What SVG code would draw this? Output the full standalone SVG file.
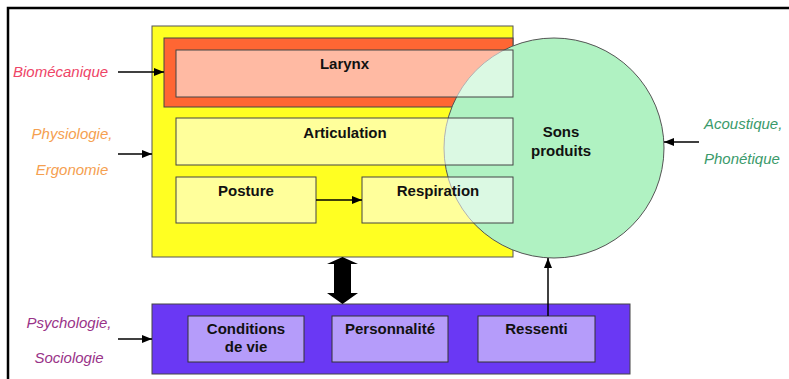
<svg xmlns="http://www.w3.org/2000/svg" width="789" height="379" viewBox="0 0 789 379">
<defs>
<marker id="ah" markerWidth="10" markerHeight="8" refX="10" refY="4" orient="auto" markerUnits="userSpaceOnUse">
<path d="M0,0 L10,4 L0,8 Z" fill="#000"/>
</marker>
<style>
.lbl{font-family:"Liberation Sans",Arial,sans-serif;font-style:italic;font-size:15px;}
.bt{font-family:"Liberation Sans",Arial,sans-serif;font-weight:bold;font-size:15px;fill:#111;text-anchor:middle;}
.ib{fill:#ffffff;fill-opacity:0.55;stroke:#444;stroke-width:1;}
.pb{fill:#ffffff;fill-opacity:0.5;stroke:#333;stroke-width:1;}
.conn{stroke:#000;stroke-width:1.5;fill:none;}
</style>
</defs>
<rect x="0" y="0" width="789" height="379" fill="#ffffff"/>
<path d="M8,379 L8,8 L789,8" fill="none" stroke="#000" stroke-width="2.5"/>

<g id="yellow-box">
<rect x="152" y="26" width="361" height="231" fill="#ffff22" stroke="#555" stroke-width="1"/>
</g>
<g id="orange-box">
<rect x="164" y="38" width="349" height="69" fill="#ff6633" stroke="#444" stroke-width="1"/>
</g>
<g id="sons-produits">
<circle cx="554" cy="148" r="110" fill="#b0f2c2" stroke="#555" stroke-width="1"/>
</g>
<g id="larynx">
<rect class="ib" x="176" y="50" width="337" height="47"/>
<text class="bt" x="344.5" y="69">Larynx</text>
</g>
<g id="articulation">
<rect class="ib" x="176" y="118" width="337" height="47"/>
<text class="bt" x="345" y="138">Articulation</text>
</g>
<g id="posture">
<rect class="ib" x="176" y="177" width="140" height="46"/>
<text class="bt" x="246" y="196">Posture</text>
</g>
<g id="respiration">
<rect class="ib" x="362" y="177" width="151" height="46"/>
<text class="bt" x="438" y="196">Respiration</text>
</g>
<g id="sons-label">
<text class="bt" x="561" y="137">Sons</text>
<text class="bt" x="561" y="156">produits</text>
</g>

<g id="purple-box">
<rect x="152" y="304" width="478" height="70" fill="#6a38f4" stroke="#444" stroke-width="1"/>
</g>
<g id="conditions">
<rect class="pb" x="188" y="316" width="116" height="46"/>
<text class="bt" x="246" y="334">Conditions</text>
<text class="bt" x="246" y="352">de vie</text>
</g>
<g id="personnalite">
<rect class="pb" x="332" y="316" width="116" height="46"/>
<text class="bt" x="390" y="334">Personnalité</text>
</g>
<g id="ressenti">
<rect class="pb" x="478" y="316" width="117" height="46"/>
<text class="bt" x="536.5" y="334">Ressenti</text>
</g>

<g id="label-biomecanique"><text class="lbl" x="13" y="77" fill="#ee4466">Biomécanique</text></g>
<g id="label-physiologie">
<text class="lbl" x="72" y="139" fill="#f5a050" text-anchor="middle">Physiologie,</text>
<text class="lbl" x="72" y="175" fill="#f5a050" text-anchor="middle">Ergonomie</text>
</g>
<g id="label-psychologie">
<text class="lbl" x="69" y="328" fill="#993388" text-anchor="middle">Psychologie,</text>
<text class="lbl" x="69" y="363" fill="#993388" text-anchor="middle">Sociologie</text>
</g>
<g id="label-acoustique">
<text class="lbl" x="704" y="129" fill="#3a9a6a">Acoustique,</text>
<text class="lbl" x="704" y="164" fill="#3a9a6a">Phonétique</text>
</g>

<g id="connectors">
<line class="conn" x1="118" y1="72" x2="164" y2="72" marker-end="url(#ah)"/>
<line class="conn" x1="118" y1="154" x2="152" y2="154" marker-end="url(#ah)"/>
<line class="conn" x1="118" y1="339" x2="152" y2="339" marker-end="url(#ah)"/>
<line class="conn" x1="699" y1="142" x2="664" y2="142" marker-end="url(#ah)"/>
<line class="conn" x1="316" y1="200" x2="362" y2="200" marker-end="url(#ah)"/>
<line class="conn" x1="548" y1="316" x2="548" y2="258" marker-end="url(#ah)"/>
<path d="M342.5,257 L358,264 L351,264 L351,293 L358,293 L342.5,304 L327,293 L334,293 L334,264 L327,264 Z" fill="#000"/>
</g>
</svg>
